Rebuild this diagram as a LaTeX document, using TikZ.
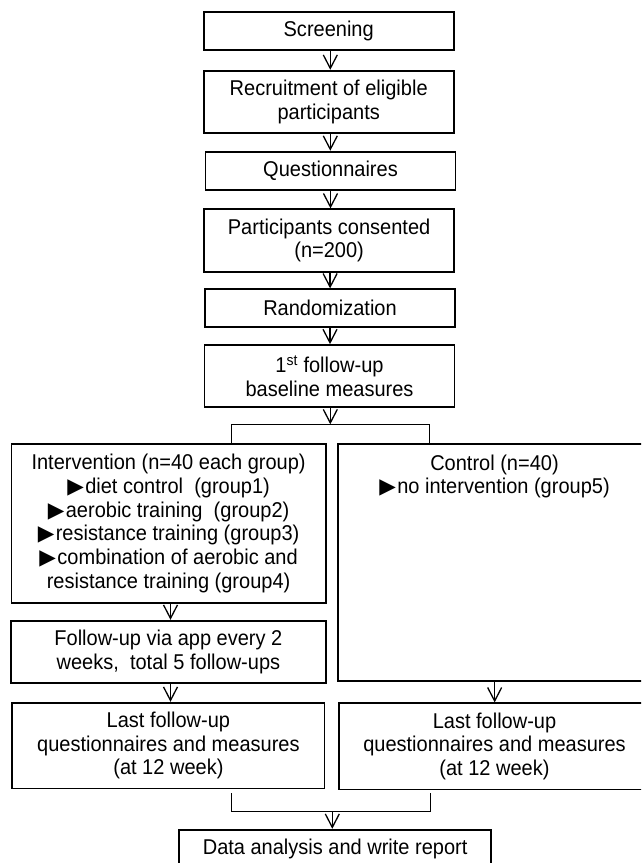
\documentclass[tikz,border=0pt]{standalone}
\usepackage{fontspec}
\setmainfont{Liberation Sans}[FakeStretch=0.935]
\newfontfamily\dvtri{DejaVu Sans}
\newcommand\tribullet{{\dvtri\fontsize{21.5}{23.7}\selectfont ▶}\kern1.5pt}
\usetikzlibrary{arrows.meta,calc}
\begin{document}
\begin{tikzpicture}[x=1pt,y=-1pt,
  box/.style={draw, line width=1.8pt, rectangle, inner sep=0pt, align=center,
    font=\fontsize{21.4}{23.7}\selectfont},
  txt/.style={inner sep=0pt, align=center, font=\fontsize{21.4}{23.7}\selectfont},
  arr/.style={line width=1.3pt, -{Straight Barb[length=13.5pt,width=14pt,line width=1.3pt]}},
  con/.style={line width=1.3pt}]
\useasboundingbox (0,0) rectangle (641,863);
\clip (0,0) rectangle (641,863);
\fill[white] (0,0) rectangle (641,863);
% top column
\node[box, minimum width=250pt, minimum height=38.3pt] (scr) at (328.7,30.9) {Screening};
\node[box, minimum width=250pt, minimum height=62pt] (rec) at (328.7,101.7) {Recruitment of eligible\\participants};
\node[box, minimum width=250pt, minimum height=38.3pt] (que) at (330.5,170.8) {Questionnaires};
\node[box, minimum width=250pt, minimum height=62.4pt] (par) at (329.1,240.5) {Participants consented\\(n=200)};
\node[box, minimum width=250pt, minimum height=37.4pt] (ran) at (330,308) {Randomization};
\node[box, minimum width=250pt, minimum height=62.3pt] (fuA) at (329.5,376.2) {1\textsuperscript{st} follow-up\\baseline measures};
% branches
\node[box, minimum width=314.4pt, minimum height=158.7pt] (int) at (168.6,523.35)
  {Intervention (n=40 each group)\\
   \tribullet diet control~ (group1)\\
   \tribullet aerobic training~ (group2)\\
   \tribullet resistance training (group3)\\
   \tribullet combination of aerobic and\\
   resistance training (group4)};
\node[box, minimum width=313.3pt, minimum height=236.7pt] (ctl) at (494.35,562.35) {};
\node[txt] (ctltxt) at (494.5,476.5) {Control (n=40)\\\tribullet no intervention (group5)};
\node[box, minimum width=314.8pt, minimum height=62pt] (app) at (168.4,651.7) {Follow-up via app every 2\\weeks,~ total 5 follow-ups};
\node[box, minimum width=312.2pt, minimum height=85.8pt] (lastL) at (168.4,745.6) {Last follow-up\\questionnaires and measures\\(at 12 week)};
\node[box, minimum width=311pt, minimum height=86.2pt] (lastR) at (494.5,746.4) {Last follow-up\\questionnaires and measures\\(at 12 week)};
\node[box, minimum width=311.7pt, minimum height=38.3pt] (data) at (335.15,848.85) {Data analysis and write report};
% arrows in the column
\draw[arr] ($(scr.south)+(1.6,0)$) -- ($(scr.south |- rec.north)+(1.6,0)$);
\draw[arr] ($(rec.south)+(1.6,0)$) -- ($(rec.south |- que.north)+(1.6,0)$);
\draw[arr] (que.south) -- (que.south |- par.north);
\draw[arr] ($(par.south)+(1,0)$) -- ($(par.south |- ran.north)+(1,0)$);
\draw[arr] (ran.south) -- (ran.south |- fuA.north);
% split
\coordinate (sp) at (330.3,424.3);
\coordinate (spL) at (231.4,424.3);
\coordinate (spR) at (429.7,424.3);
\draw[arr] ($(fuA.south)+(0.8,0)$) -- (sp);
\draw[con] (spL |- int.north) -- (spL) -- (spR) -- (spR |- ctl.north);
% left column
\draw[arr] ($(int.south)+(1.9,0)$) -- ($(int.south |- app.north)+(1.9,0)$);
\draw[arr] ($(app.south)+(2.1,0)$) -- ($(app.south |- lastL.north)+(2.1,0)$);
% right column
\draw[arr] ($(ctl.south)+(0.3,0)$) -- ($(ctl.south |- lastR.north)+(0.3,0)$);
% join
\coordinate (jL) at (231.2,811.7);
\coordinate (jR) at (430.7,811.7);
\coordinate (jM) at (332.3,811.7);
\draw[con] ($(jL |- lastL.south)+(0,4)$) -- (jL) -- (jR) -- ($(jR |- lastR.south)+(0,3)$);
\draw[arr] (jM) -- (jM |- data.north);
\end{tikzpicture}
\end{document}
